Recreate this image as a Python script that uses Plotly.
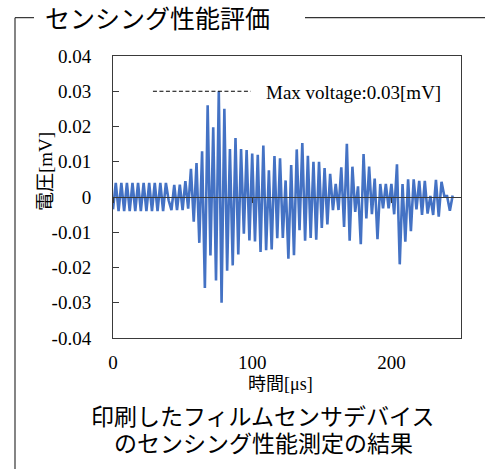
import plotly.graph_objects as go

# ---------------- data ----------------
time_us = list(range(0, 246, 2))
voltage_mV = [
    -0.0035, 0.004, -0.004, 0.004, -0.004, 0.004, -0.004, 0.004, -0.004, 0.004,   # 0-18
    -0.004, 0.004, -0.004, 0.004, -0.004, 0.004, -0.004, 0.004, -0.004, 0.004,    # 20-38
    -0.001, -0.0037, 0.0034, -0.0037, 0.0035, -0.0037, 0.0045, -0.0033, 0.008, -0.007,  # 40-58
    0.0096, -0.013, 0.013, -0.0258, 0.026, -0.0166, 0.0198, -0.0237, 0.030, -0.030,     # 60-78
    0.025, -0.0209, 0.0136, -0.0194, 0.0167, -0.0163, 0.0136, -0.0104, 0.0133, -0.0123, # 80-98
    0.0123, -0.0126, 0.012, -0.0156, 0.0146, -0.0151, 0.0076, -0.0149, 0.0116, -0.0117, # 100-118
    0.011, -0.0116, 0.0047, -0.0175, 0.0091, -0.0165, 0.0135, -0.0094, 0.0153, -0.0124, # 120-138
    0.0117, -0.0116, 0.010, -0.0121, 0.010, -0.0088, 0.0082, -0.0078, 0.0066, -0.0037,  # 140-158
    0.0037, -0.0037, 0.0084, -0.0085, 0.0151, -0.0124, 0.0086, -0.0042, 0.003, -0.0134, # 160-178
    0.0122, -0.0061, 0.0086, -0.0049, 0.0052, -0.012, 0.0037, -0.0032, 0.0037, -0.0032, # 180-198
    0.0037, -0.0049, 0.0093, -0.0191, 0.0037, -0.0127, 0.005, -0.0097, 0.005, -0.0035,  # 200-218
    0.0046, -0.0051, 0.0046, -0.0047, 0.0003, -0.0051, 0.0049, -0.0056, 0.0043, 0.0003, # 220-238
    0.0003, -0.0039, 0.0004,                                                             # 240-244
]
y_tickvals = [0.04, 0.03, 0.02, 0.01, 0, -0.01, -0.02, -0.03, -0.04]
y_ticktext = ["0.04", "0.03", "0.02", "0.01", "0", "-0.01", "-0.02", "-0.03", "-0.04"]
x_tickvals = [0, 100, 200]
x_ticktext = ["0", "100", "200"]
max_line_span = [28.7, 99.0]   # time span of the dashed max-voltage marker

title_text = "センシング性能評価"
x_title = "時間[μs]"
y_title = "電圧[mV]"
max_label = "Max voltage:0.03[mV]"
caption_lines = ["印刷したフィルムセンサデバイス", "のセンシング性能測定の結果"]

# ---------------- layout helpers ----------------
W, H = 485, 469
L, R, T, B = 113, 24, 55.5, 130.5
PW, PH = W - L - R, H - T - B


def px(xp):
    return (xp - L) / PW


def py(yp):
    return (H - B - yp) / PH


LAT = "Liberation Serif, 'Noto Sans CJK JP', serif"
JP = "'Liberation Serif', 'Noto Sans CJK JP', sans-serif"
BLUE = "#4472C4"
AX = "#3a3a3a"

fig = go.Figure()
fig.add_trace(go.Scatter(x=time_us, y=voltage_mV, mode="lines",
                         line=dict(color=BLUE, width=2.6), showlegend=False,
                         xaxis="x", yaxis="y"))
vmax = max(voltage_mV)
fig.add_trace(go.Scatter(x=max_line_span, y=[vmax, vmax], mode="lines",
                         line=dict(color="black", width=1, dash="4px,2.5px"),
                         showlegend=False))

fig.update_layout(
    width=W, height=H,
    margin=dict(l=L, r=R, t=T, b=B, pad=0),
    paper_bgcolor="white", plot_bgcolor="white",
    font=dict(family=LAT, size=19, color="black"),
    xaxis=dict(range=[0, 250], tickmode="array", tickvals=x_tickvals, ticktext=x_ticktext,
               showgrid=False, zeroline=False, showline=True, mirror=True,
               linecolor=AX, linewidth=1, ticks="", ticklabelstandoff=7,
               tickfont=dict(family=LAT, size=19)),
    xaxis2=dict(range=[0, 250], overlaying="x", anchor="free", position=0.5,
                tickmode="array", tickvals=x_tickvals, showticklabels=False,
                showgrid=False, zeroline=False, showline=True, linecolor=AX, linewidth=1.2,
                ticks="outside", ticklen=5, tickcolor=AX, side="bottom"),
    yaxis=dict(range=[-0.04, 0.04], tickmode="array", tickvals=y_tickvals, ticktext=y_ticktext,
               showgrid=False, zeroline=False, showline=True, mirror=True,
               linecolor=AX, linewidth=1, ticks="inside", ticklen=6, tickcolor=AX,
               ticklabelstandoff=17, tickfont=dict(family=LAT, size=19)),
)
# dummy trace to activate xaxis2 (zero-line axis with ticks)
fig.add_trace(go.Scatter(x=[None], y=[None], xaxis="x2", yaxis="y", showlegend=False,
                         hoverinfo="skip"))

ann = [
    dict(x=108.3, y=vmax, xref="x", yref="y", text=max_label, xanchor="left",
         yanchor="middle", yshift=-1, font=dict(family=LAT, size=19)),
    dict(x=px(45), y=py(172), text=y_title, textangle=-90,
         font=dict(family=JP, size=19)),
    dict(x=px(280), y=py(385), text=x_title, font=dict(family=JP, size=18)),
    dict(x=px(262), y=py(418), text=caption_lines[0], font=dict(family=JP, size=23)),
    dict(x=px(263), y=py(445), text=caption_lines[1], font=dict(family=JP, size=23)),
    dict(x=px(43), y=py(19), text=title_text, xanchor="left",
         font=dict(family=JP, size=25)),
]
for a in ann:
    a.setdefault("xref", "paper")
    a.setdefault("yref", "paper")
    a.setdefault("xanchor", "center")
    a.setdefault("yanchor", "middle")
    a["showarrow"] = False
    fig.add_annotation(**a)

frame = dict(color="#333333", width=1.2)
for x0, y0, x1, y1 in [(15, 17, 15, 475), (15, 17, 34, 17), (305, 17, 490, 17)]:
    fig.add_shape(type="line", xref="paper", yref="paper",
                  x0=px(x0), y0=py(y0), x1=px(x1), y1=py(y1), line=frame)

fig.write_html("out.html")
